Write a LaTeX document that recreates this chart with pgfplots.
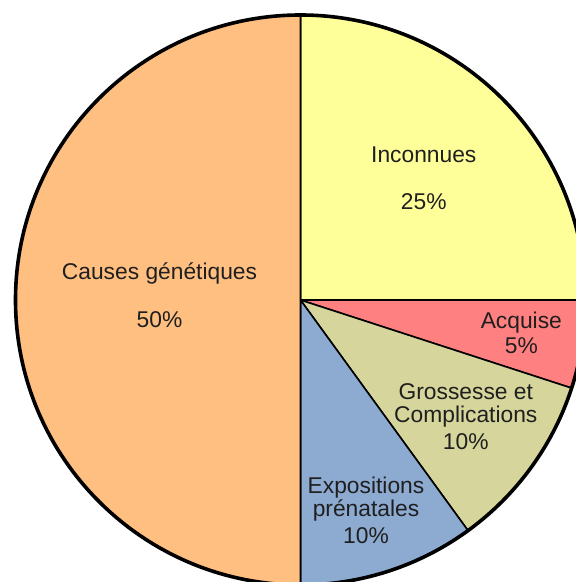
\documentclass[border=0pt]{standalone}
\usepackage{fontspec}
\setmainfont{Liberation Sans}
\usepackage{pgfplots}
\usepackage{pgfplotstable}
\pgfplotsset{compat=1.18}
\definecolor{cOra}{HTML}{FFBF80}
\definecolor{cYel}{HTML}{FFFF99}
\definecolor{cRed}{HTML}{FF8080}
\definecolor{cOli}{HTML}{D5D59C}
\definecolor{cBlu}{HTML}{8DAAD1}
% shares in percent, clockwise from 12 o'clock
\pgfplotstableread{
label        value
Inconnues    25
Acquise      5
Grossesse    10
Expositions  10
Causes       50
}\piedata
\pgfplotstablegetelem{0}{value}\of\piedata \edef\vA{\pgfplotsretval}
\pgfplotstablegetelem{1}{value}\of\piedata \edef\vB{\pgfplotsretval}
\pgfplotstablegetelem{2}{value}\of\piedata \edef\vC{\pgfplotsretval}
\pgfplotstablegetelem{3}{value}\of\piedata \edef\vD{\pgfplotsretval}
\pgfplotstablegetelem{4}{value}\of\piedata \edef\vE{\pgfplotsretval}
\pgfmathsetmacro{\aA}{90}
\pgfmathsetmacro{\aB}{\aA-3.6*\vA}
\pgfmathsetmacro{\aC}{\aB-3.6*\vB}
\pgfmathsetmacro{\aD}{\aC-3.6*\vC}
\pgfmathsetmacro{\aE}{\aD-3.6*\vD}
\pgfmathsetmacro{\aF}{\aE-3.6*\vE}
\def\R{285}
\newcommand{\slice}[3]{%
  \filldraw[fill=#3, draw=black, line width=1.6bp, line join=round]
    (axis cs:0,0) -- (axis cs:{\R*cos(#1)},{\R*sin(#1)})
    arc[start angle=#1, end angle=#2, radius=\R bp] -- cycle;}
\newcommand{\lbl}[3]{\node[anchor=base, inner sep=0pt, text=black!88] at (axis cs:#1,#2) {\fontsize{22.8bp}{27bp}\selectfont #3};}
\begin{document}
\begin{tikzpicture}
\begin{axis}[
  width=576bp, height=582bp, scale only axis,
  xmin=-300.5, xmax=275.5, ymin=-282, ymax=300,
  hide axis, clip=true,
]
\slice{\aA}{\aB}{cYel}
\slice{\aB}{\aC}{cRed}
\slice{\aC}{\aD}{cOli}
\slice{\aD}{\aE}{cBlu}
\slice{\aE}{\aF}{cOra}
\draw[line width=3.6bp] (axis cs:0,0) circle[radius=\R bp];
% labels (baselines)
\lbl{123.3}{137.3}{Inconnues}
\lbl{123.3}{90.7}{25\%}
\lbl{-141}{20.7}{Causes génétiques}
\lbl{-141}{-27.3}{50\%}
\lbl{220.8}{-28.3}{Acquise}
\lbl{220.8}{-53.3}{5\%}
\lbl{165.3}{-99.3}{Grossesse et}
\lbl{165.3}{-122.7}{Complications}
\lbl{165.3}{-150}{10\%}
\lbl{65.5}{-193.3}{Expositions}
\lbl{65.5}{-216.7}{prénatales}
\lbl{65.5}{-244}{10\%}
\end{axis}
\pgfresetboundingbox
\path[use as bounding box] (current axis.south west) rectangle (current axis.north east);
\end{tikzpicture}
\end{document}
